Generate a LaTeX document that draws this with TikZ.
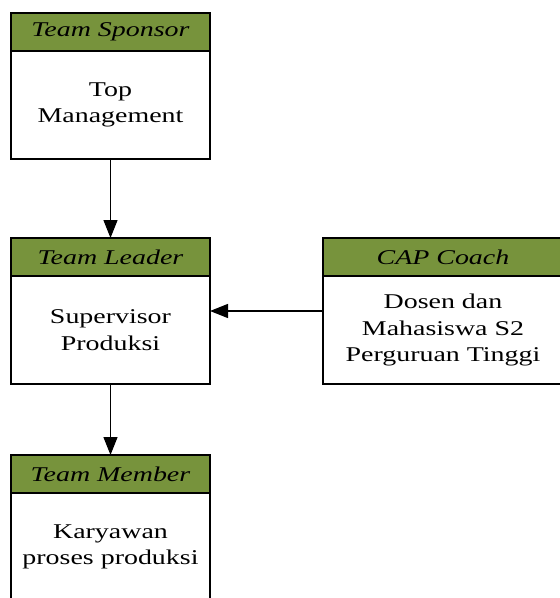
\documentclass[tikz,border=0pt]{standalone}
\usepackage{fontspec}
\setmainfont{Liberation Serif}[FakeStretch=1.33]
\usetikzlibrary{
    arrows.meta,
    positioning
}
\definecolor{headgreen}{HTML}{77933C}
\tikzset{
    % Boxes
    head/.style={draw,fill=headgreen,line width=1.6pt,minimum width=#1,minimum height=38pt,inner sep=0pt,outer sep=0pt,font=\fontsize{21}{26}\selectfont\itshape},
    head/.default=199pt,
    body/.style={draw,line width=1.6pt,minimum width=#1,minimum height=108pt,align=center,inner sep=0pt,outer sep=0pt},
    body/.default=199pt,
    %
    % Arrows
    arrow tip/.tip={Triangle[length=18pt,width=14pt]},
    arr/.style={-{arrow tip},line width=1.2pt}
}
\tikzstyle{every node}=[font=\fontsize{21}{26.5}\selectfont]

\begin{document}
\begin{tikzpicture}
        \useasboundingbox (0,0) rectangle (560pt,-598pt);
        % left column
        \node[head] (sponsorhead) at (110.5pt,-32pt) {Team Sponsor};
        \node[body,below=0pt of sponsorhead] (sponsorbody) {Top\\Management};
        \node[head,below=79pt of sponsorbody] (leaderhead) {Team Leader};
        \node[body,below=0pt of leaderhead] (leaderbody) {Supervisor\\Produksi};
        \node[head,below=71pt of leaderbody] (memberhead) {Team Member};
        \node[body,below=0pt of memberhead] (memberbody) {Karyawan\\proses produksi};
        % coach
        \node[head=240pt,right=113pt of leaderhead] (coachhead) {CAP Coach};
        \node[body=240pt,below=0pt of coachhead] (coachbody) {Dosen dan\\Mahasiswa S2\\Perguruan Tinggi};
        \draw[arr] (sponsorbody) -- (leaderhead);
        \draw[arr] (leaderbody) -- (memberhead);
        \draw[arr] ([yshift=19pt]coachbody.west) -- ([yshift=19pt]leaderbody.east);
    \end{tikzpicture}
\end{document}
